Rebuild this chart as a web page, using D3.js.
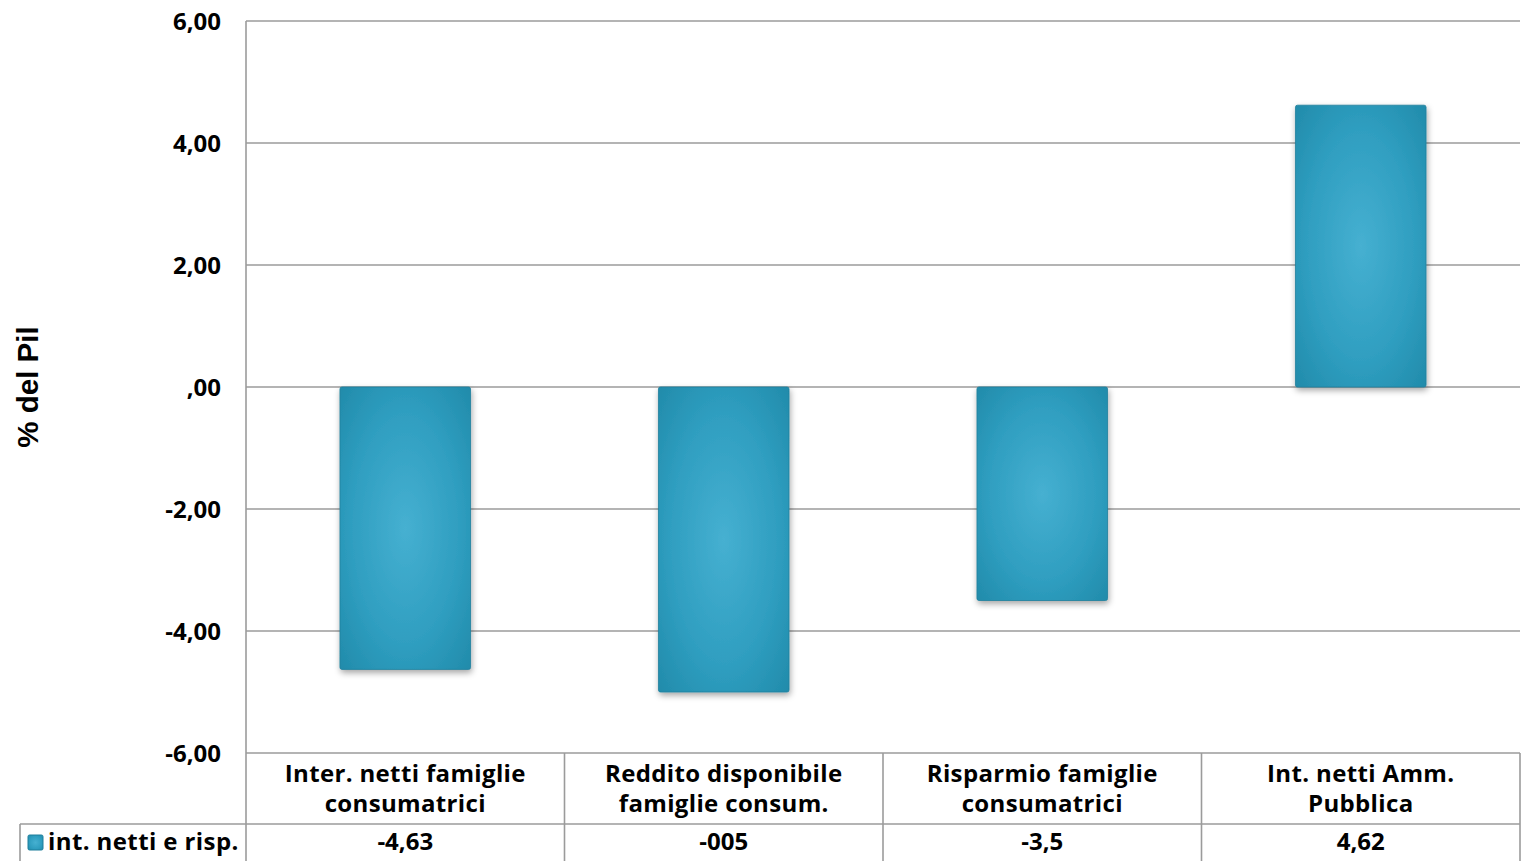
<!DOCTYPE html>
<html>
<head>
<meta charset="utf-8">
<script src="https://cdn.jsdelivr.net/npm/d3@7"></script>
<style>
  html, body { margin: 0; padding: 0; background: #ffffff; }
  svg { display: block; }
  text { font-family: "Open Sans", "Lato", sans-serif; font-weight: 700; fill: #000; }
</style>
</head>
<body>
<script>
// Categories (two-line labels in the data table under the plot)
const categories = [
  ["Inter. netti famiglie", "consumatrici"],
  ["Reddito disponibile", "famiglie consum."],
  ["Risparmio famiglie", "consumatrici"],
  ["Int. netti Amm.", "Pubblica"]
];
// Series values, % of GDP
const seriesName = "int. netti e risp.";
const values = [-4.63, -5, -3.5, 4.62];
// Values as printed in the data table
const valueLabels = ["-4,63", "-005", "-3,5", "4,62"];
// Y axis ticks
const yTicks = [-6, -4, -2, 0, 2, 4, 6];
const yTitle = "% del Pil";

const W = 1524, H = 861;
const plotLeft = 246, plotRight = 1520, plotTop = 21, plotBottom = 753;
const row1 = 824;             // bottom of category row in the table
const legendLeft = 20;
const fontSize = "24px";

const svg = d3.select("body").append("svg").attr("width", W).attr("height", H);
const defs = svg.append("defs");

const grad = defs.append("radialGradient").attr("id", "barFill")
  .attr("cx", "50%").attr("cy", "50%").attr("r", "75%");
grad.append("stop").attr("offset", "0%").attr("stop-color", "#46b0d1");
grad.append("stop").attr("offset", "55%").attr("stop-color", "#2f9ec0");
grad.append("stop").attr("offset", "100%").attr("stop-color", "#1f88a7");

const shadow = defs.append("filter").attr("id", "shadow")
  .attr("x", "-20%").attr("y", "-20%").attr("width", "140%").attr("height", "140%");
shadow.append("feDropShadow").attr("dx", 1).attr("dy", 3)
  .attr("stdDeviation", 3).attr("flood-color", "#000").attr("flood-opacity", 0.35);

const y = d3.scaleLinear().domain([-6, 6]).range([plotBottom, plotTop]);
const x = d3.scaleBand().domain(d3.range(categories.length)).range([plotLeft, plotRight]).padding(0);
const barW = x.bandwidth() * 0.41;

const lineColor = "#9b9b9b";

// Horizontal gridlines
svg.append("g").selectAll("line").data(yTicks).join("line")
  .attr("x1", plotLeft).attr("x2", plotRight)
  .attr("y1", d => y(d)).attr("y2", d => y(d))
  .attr("stroke", lineColor).attr("stroke-width", 1.6);

// Y axis labels with comma decimals
const fmt = v => v === 0 ? ",00" : d3.format(".2f")(v).replace("−", "-").replace(".", ",");
const yAxis = svg.append("g").attr("transform", `translate(${plotLeft},0)`)
  .call(d3.axisLeft(y).tickValues(yTicks).tickFormat(fmt).tickSize(0).tickPadding(25));
yAxis.select(".domain").remove();
yAxis.selectAll("text")
  .style("font-family", "'Open Sans', Lato, sans-serif")
  .style("font-weight", 700).style("font-size", fontSize).attr("fill", "#000")
  .attr("dy", "0.35em");

// Y title
svg.append("text")
  .attr("transform", `translate(38,${y(0)}) rotate(-90)`)
  .attr("text-anchor", "middle")
  .style("font-family", "'Liberation Sans', Arial, sans-serif")
  .style("font-size", "29.5px").style("font-weight", 700)
  .text(yTitle);

// Bars
svg.append("g").selectAll("rect").data(values).join("rect")
  .attr("x", (d, i) => x(i) + (x.bandwidth() - barW) / 2)
  .attr("y", d => y(Math.max(0, d)))
  .attr("width", barW)
  .attr("height", d => Math.abs(y(d) - y(0)))
  .attr("rx", 2)
  .attr("fill", "url(#barFill)")
  .attr("stroke", "#1f7f9c").attr("stroke-width", 0.8)
  .attr("filter", "url(#shadow)");

// Frame and data table lines
const g = svg.append("g").attr("stroke", lineColor).attr("stroke-width", 1.6);
g.append("line").attr("x1", plotLeft).attr("x2", plotLeft).attr("y1", plotTop).attr("y2", H);
g.append("line").attr("x1", legendLeft).attr("x2", plotRight).attr("y1", row1).attr("y2", row1);
g.append("line").attr("x1", legendLeft).attr("x2", legendLeft).attr("y1", row1).attr("y2", H);
g.selectAll("line.col").data(d3.range(1, categories.length + 1)).join("line")
  .attr("class", "col")
  .attr("x1", i => i < categories.length ? x(i) : plotRight)
  .attr("x2", i => i < categories.length ? x(i) : plotRight)
  .attr("y1", plotBottom).attr("y2", H);

// Category labels
const catG = svg.append("g").selectAll("text").data(categories).join("text")
  .attr("text-anchor", "middle")
  .style("font-size", fontSize)
  .style("letter-spacing", "0.35px");
catG.each(function(d, i) {
  const t = d3.select(this);
  d.forEach((line, k) => {
    t.append("tspan").attr("x", x(i) + x.bandwidth() / 2)
      .attr("y", 782 + k * 30).text(line);
  });
});

// Value row
svg.append("g").selectAll("text").data(valueLabels).join("text")
  .attr("x", (d, i) => x(i) + x.bandwidth() / 2)
  .attr("y", 850)
  .attr("text-anchor", "middle")
  .style("font-size", fontSize)
  .text(d => d);

// Legend key and series name
svg.append("rect").attr("x", 28).attr("y", 835).attr("width", 15).attr("height", 15)
  .attr("rx", 1.5).attr("fill", "url(#barFill)").attr("stroke", "#1f7f9c").attr("stroke-width", 1);
svg.append("text").attr("x", 48).attr("y", 850)
  .style("font-size", fontSize).style("letter-spacing", "0.4px").text(seriesName);
</script>
</body>
</html>
